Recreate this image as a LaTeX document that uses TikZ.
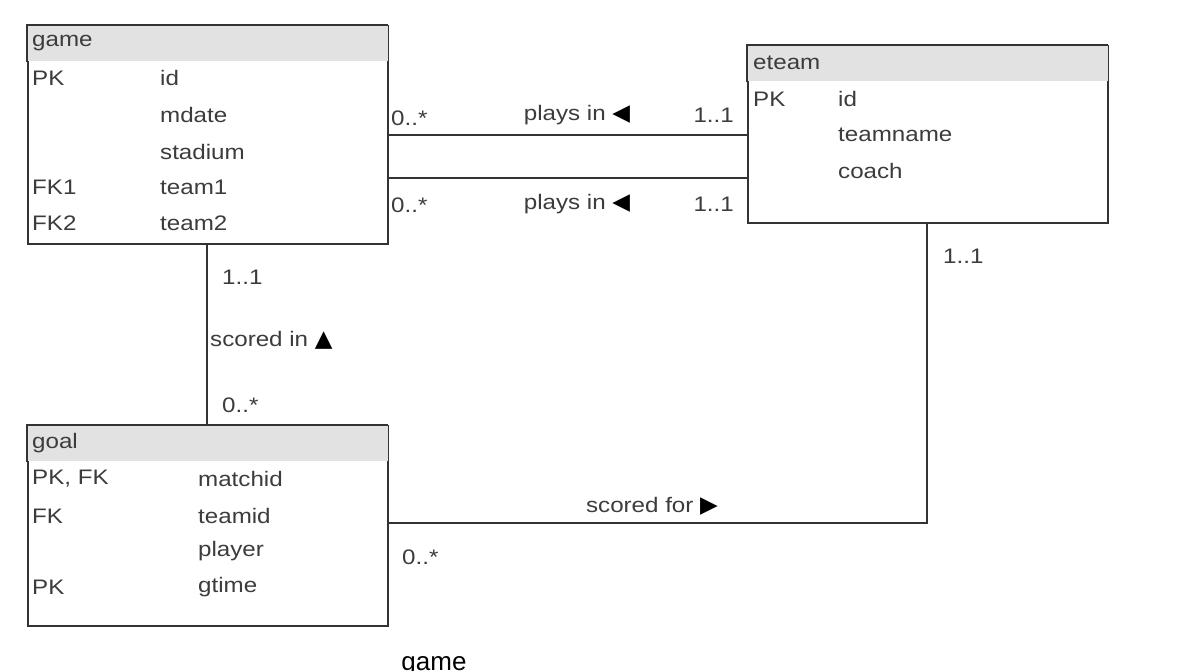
\documentclass[tikz,border=0pt]{standalone}
\usepackage{fontspec}
\setmainfont[FakeStretch=1.15]{Liberation Sans}
\newfontfamily\symfont{DejaVu Sans}
\newfontfamily\capfont{Liberation Sans}
\definecolor{linec}{HTML}{333333}
\definecolor{txtc}{HTML}{3C3C3C}
\definecolor{hdrc}{HTML}{E2E2E2}
\newcommand{\tri}[1]{{\symfont\fontsize{23}{26}\selectfont\color{black}#1}}
\tikzset{
  tbl/.style={draw=linec, line width=2pt, fill=white, anchor=north west, inner sep=0pt},
  conn/.style={draw=linec, line width=2pt},
  txt/.style={text=txtc, font=\fontsize{21}{25}\selectfont, inner sep=0pt, anchor=west},
  lbl/.style={txt},
}
\begin{document}
\begin{tikzpicture}[x=1pt,y=-1pt]
\useasboundingbox[fill=white] (0,0) rectangle (1196,670);
% tables
\node[tbl, minimum width=360pt, minimum height=218pt] (game) at (27,25) {};
\node[tbl, minimum width=360pt, minimum height=177pt] (eteam) at (747,45) {};
\node[tbl, minimum width=360pt, minimum height=200pt] (goal) at (27,425) {};
% headers
\fill[hdrc] (28,26) rectangle (388,61);
\fill[hdrc] (748,46) rectangle (1108,81);
\fill[hdrc] (28,426) rectangle (388,461);
\draw[linec, line width=2pt] (27,62) -- (27,25) -- (388,25);
\draw[linec, line width=2pt] (747,82) -- (747,45) -- (1108,45);
\draw[linec, line width=2pt] (27,462) -- (27,425) -- (388,425);
% game text
\node[txt] (gh) at (32,43) {game};
\node[txt] (g1a) at (32,78) {PK};  \node[txt] (g1b) at (160,78) {id};
\node[txt] (g2b) at (160,115) {mdate};
\node[txt] (g3b) at (160,152) {stadium};
\node[txt] (g4a) at (32,187) {FK1}; \node[txt] (g4b) at (160,187) {team1};
\node[txt] (g5a) at (32,223) {FK2}; \node[txt] (g5b) at (160,223) {team2};
% eteam text
\node[txt] (eh) at (753,63) {eteam};
\node[txt] (e1a) at (753,99) {PK}; \node[txt] (e1b) at (838,99) {id};
\node[txt] (e2b) at (838,135) {teamname};
\node[txt] (e3b) at (838,171) {coach};
% goal text
\node[txt] (oh) at (32,443) {goal};
\node[txt] (o1a) at (32,479) {PK, FK}; \node[txt] (o1b) at (198,479) {matchid};
\node[txt] (o2a) at (32,516) {FK};     \node[txt] (o2b) at (198,516) {teamid};
\node[txt] (o3b) at (198,551) {player};
\node[txt] (o4a) at (32,587) {PK};     \node[txt] (o4b) at (198,587) {gtime};
% connectors
\draw[conn] (game.east |- 0,135) -- (eteam.west |- 0,135);
\draw[conn] (game.east |- 0,178) -- (eteam.west |- 0,178);
\draw[conn] (game.south -| 207,0) -- (goal.north -| 207,0);
\draw[conn] (goal.east |- 0,523) -| (eteam.south -| 927,0);
% connector labels
\node[lbl] (m1) at (391,118) {0..*};
\node[lbl, anchor=center] (r1) at (577,115) {plays in \tri{◀}};
\node[lbl, anchor=east] (n1) at (734,115) {1..1};
\node[lbl] (m2) at (391,205) {0..*};
\node[lbl, anchor=center] (r2) at (577,204) {plays in \tri{◀}};
\node[lbl, anchor=east] (n2) at (734,204) {1..1};
\node[lbl] (m3) at (222,277) {1..1};
\node[lbl] (r3) at (210,340) {scored in \tri{▲}};
\node[lbl] (n3) at (222,405) {0..*};
\node[lbl, anchor=center] (r4) at (652,506) {scored for \tri{▶}};
\node[lbl] (m4) at (402,557) {0..*};
\node[lbl] (n4) at (943,256) {1..1};
% caption (cut off at bottom, as in the reference)
\node[text=black, font=\capfont\fontsize{26}{30}\selectfont, inner sep=0pt, anchor=north] (cap) at (434,656) {game};
\end{tikzpicture}
\end{document}
